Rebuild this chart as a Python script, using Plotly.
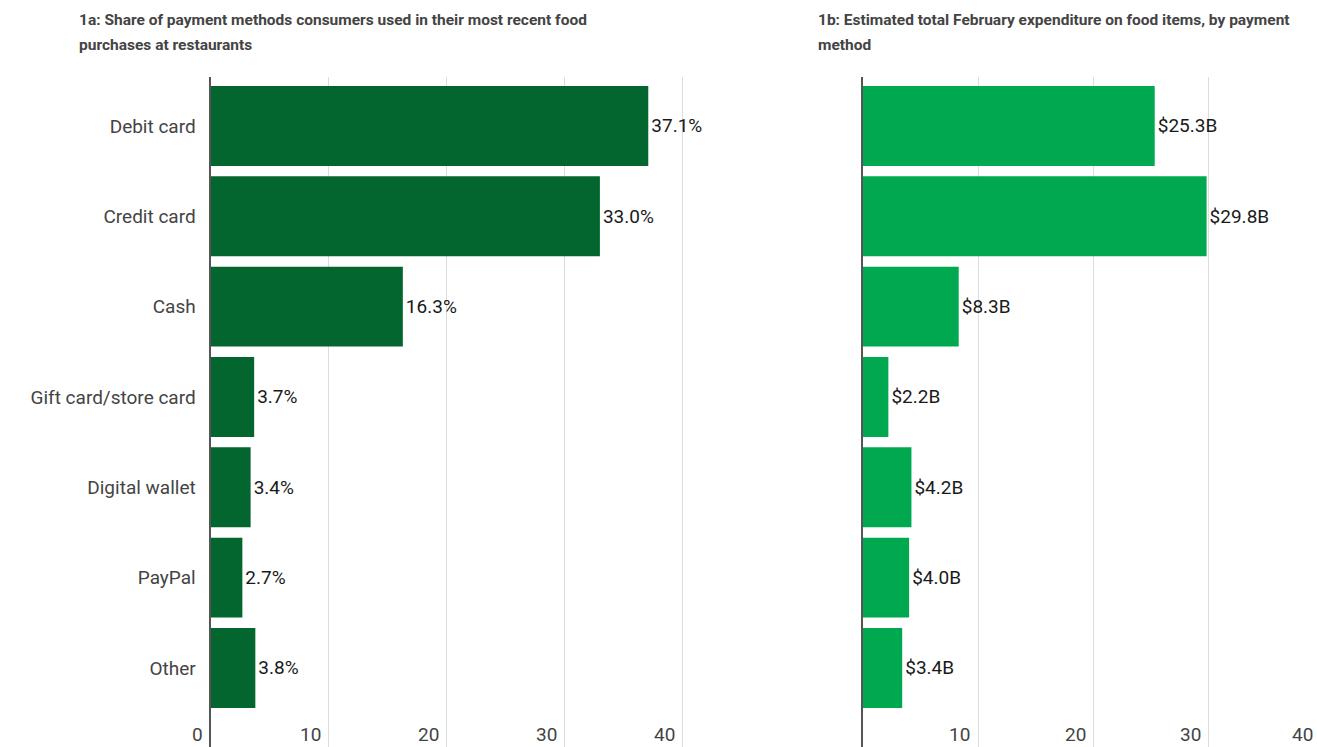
import plotly.graph_objects as go

# Payment methods (top to bottom)
methods = ["Debit card", "Credit card", "Cash", "Gift card/store card",
           "Digital wallet", "PayPal", "Other"]

# 1a: share of most recent restaurant food purchases (%)
share_pct = [37.1, 33.0, 16.3, 3.7, 3.4, 2.7, 3.8]

# 1b: estimated February food expenditure ($ billions)
spend_bn = [25.3, 29.8, 8.3, 2.2, 4.2, 4.0, 3.4]

ticks_a = [0, 10, 20, 30, 40]
ticks_b = [0, 10, 20, 30, 40]
tick_text_a = ["0", "10", "20", "30", "40"]
tick_text_b = ["", "10", "20", "30", "40"]

title_a = ["1a: Share of payment methods consumers used in their most recent food",
           "purchases at restaurants"]
title_b = ["1b: Estimated total February expenditure on food items, by payment",
           "method"]

W, H = 1317, 747
FONT = "Roboto"
DARK = "#04662f"
BRIGHT = "#00a94f"
LABEL_SIZE = 19

fig = go.Figure()

fig.add_trace(go.Bar(
    y=methods, x=share_pct, orientation="h",
    marker=dict(color=DARK, line=dict(width=0)),
    width=0.885,
    text=[f"{v:.1f}%" for v in share_pct],
    textposition="outside", cliponaxis=False,
    textfont=dict(family=FONT, size=LABEL_SIZE, color="#1a1a1a"),
    xaxis="x", yaxis="y", showlegend=False, hoverinfo="skip",
))

fig.add_trace(go.Bar(
    y=methods, x=spend_bn, orientation="h",
    marker=dict(color=BRIGHT, line=dict(width=0)),
    width=0.885,
    text=[f"${v:.1f}B" for v in spend_bn],
    textposition="outside", cliponaxis=False,
    textfont=dict(family=FONT, size=LABEL_SIZE, color="#1a1a1a"),
    xaxis="x2", yaxis="y2", showlegend=False, hoverinfo="skip",
))

# Plot areas in pixels
top_px = 77
ax_a_left, ax_a_right = 210.5, 689.0
ax_b_left, ax_b_right = 863.0, 1317.0
scale_a = 11.8     # px per unit
scale_b = 11.53

y_range = [6.875, -0.542]
y_dom = [0.0, 1 - top_px / H]

common_x = dict(
    showgrid=True, gridcolor="#dcdcdc", gridwidth=1,
    zeroline=False, showticklabels=False, ticks="",
    showline=False, fixedrange=True,
)
fig.update_layout(
    width=W, height=H,
    margin=dict(l=0, r=0, t=0, b=0),
    paper_bgcolor="white", plot_bgcolor="white",
    font=dict(family=FONT, color="#444444"),
    xaxis=dict(domain=[ax_a_left / W, ax_a_right / W],
               range=[0, (ax_a_right - ax_a_left) / scale_a],
               tickvals=ticks_a, anchor="y", **common_x),
    xaxis2=dict(domain=[ax_b_left / W, ax_b_right / W],
                range=[0, (ax_b_right - ax_b_left) / scale_b],
                tickvals=ticks_b, anchor="y2", **common_x),
    yaxis=dict(domain=y_dom, range=y_range, anchor="x",
               showgrid=False, zeroline=False, showline=True,
               linecolor="#555555", linewidth=2, ticks="",
               tickfont=dict(family=FONT, size=LABEL_SIZE, color="#444444"),
               ticklabelstandoff=9, fixedrange=True),
    yaxis2=dict(domain=y_dom, range=y_range, anchor="x2",
                showgrid=False, zeroline=False, showline=True,
                linecolor="#555555", linewidth=2, ticks="",
                showticklabels=False, fixedrange=True),
)

annotations = []
# x tick labels sit just left of their gridlines, along the bottom
tick_y = 1 - 734 / H
tick_font = dict(family=FONT, size=LABEL_SIZE, color="#444444")
for xref, vals, texts, left, scale in [
        ("x", ticks_a, tick_text_a, ax_a_left, scale_a),
        ("x2", ticks_b, tick_text_b, ax_b_left, scale_b)]:
    xmax = (ax_a_right - ax_a_left) / scale_a if xref == "x" else (ax_b_right - ax_b_left) / scale_b
    for v, t in zip(vals, texts):
        if not t:
            continue
        if v <= xmax:
            annotations.append(dict(
                x=v, y=tick_y, xref=xref, yref="paper", text=t, showarrow=False,
                xanchor="right", yanchor="middle", xshift=-6, font=tick_font,
            ))
        else:
            # gridline falls past the right edge; keep its label at the edge
            annotations.append(dict(
                x=1.0, y=tick_y, xref="paper", yref="paper", text=t, showarrow=False,
                xanchor="right", yanchor="middle", xshift=-2, font=tick_font,
            ))

# panel titles, two lines each
for lines, xpx in [(title_a, 77), (title_b, 816)]:
    for i, line in enumerate(lines):
        annotations.append(dict(
            x=xpx / W, y=1 - (20 + 25 * i) / H, xref="paper", yref="paper",
            text=f"<b>{line}</b>", showarrow=False,
            xanchor="left", yanchor="middle", align="left",
            font=dict(family=FONT, size=15.5, color="#444444"),
        ))
fig.update_layout(annotations=annotations)

fig.write_html("out.html")
